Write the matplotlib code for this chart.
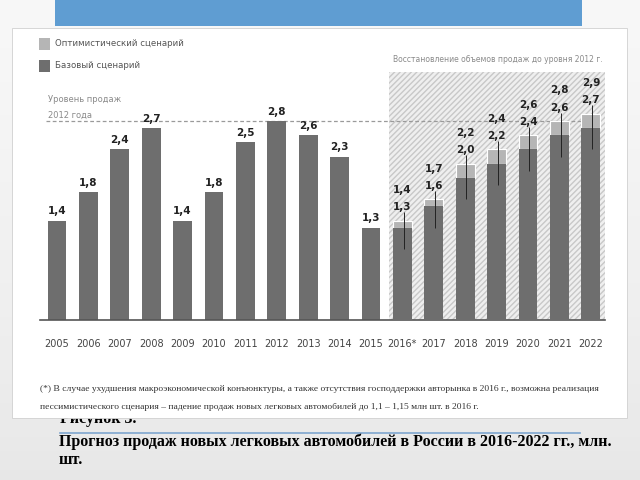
import numpy as np
import matplotlib
matplotlib.use("Agg")
import matplotlib.pyplot as plt
from matplotlib.patches import Rectangle

# history 2005-2015, forecast 2016*-2022
hist_years = ["2005", "2006", "2007", "2008", "2009", "2010", "2011", "2012", "2013", "2014", "2015"]
hist_sales = [1.4, 1.8, 2.4, 2.7, 1.4, 1.8, 2.5, 2.8, 2.6, 2.3, 1.3]
fc_years = ["2016*", "2017", "2018", "2019", "2020", "2021", "2022"]
fc_base = [1.3, 1.6, 2.0, 2.2, 2.4, 2.6, 2.7]
fc_optim = [1.4, 1.7, 2.2, 2.4, 2.6, 2.8, 2.9]
level_2012 = 2.8

years = hist_years + fc_years
W, H = 640, 480


def fx(x):
    return x / W


def fy(y):
    return 1 - y / H


def fmt(v):
    return f"{v:.1f}".replace(".", ",")


serif = ["Liberation Serif", "DejaVu Serif"]

fig = plt.figure(figsize=(6.4, 4.8), dpi=100)

# slide background, light grey getting a bit darker at the bottom
bg = fig.add_axes([0, 0, 1, 1], zorder=-5)
grad = np.linspace(0.06, 0.17, 100)[:, None] * np.ones((1, 10))
bg.imshow(grad, cmap="Greys", vmin=0, vmax=1, aspect="auto", extent=[0, 1, 0, 1])
bg.set_axis_off()

fig.patches.append(Rectangle((fx(55), fy(26)), fx(527), 26 / H, transform=fig.transFigure,
                             facecolor="#5f9dd2", edgecolor="none", zorder=1))
fig.patches.append(Rectangle((fx(12), fy(418)), fx(615), 390 / H, transform=fig.transFigure,
                             facecolor="white", edgecolor="#d0d0d0", linewidth=0.6, zorder=1))

# caption under the panel ("Рисунок 3." is half hidden by the panel)
fig.text(fx(60), fy(419), "Рисунок 3.", fontsize=11.5, fontweight="bold", family=serif,
         va="center", zorder=0.5)
fig.add_artist(plt.Line2D([fx(60), fx(580)], [fy(433), fy(433)], color="#7ea6cf", lw=1.2, zorder=2))
fig.text(fx(59), fy(442), "Прогноз продаж новых легковых автомобилей в России в 2016-2022 гг., млн.",
         fontsize=11.5, fontweight="bold", family=serif, va="center", zorder=3)
fig.text(fx(59), fy(460), "шт.", fontsize=11.5, fontweight="bold", family=serif, va="center", zorder=3)

# chart
ax = fig.add_axes([fx(40), fy(320), 565 / W, 248 / H])
ax.set_zorder(2)
ax.patch.set_alpha(0)
x = np.arange(len(years))
nh = len(hist_years)
xf = x[nh:]

ax.axvspan(nh - 0.43, len(years) - 0.55, facecolor="#efefef", hatch="//////",
           edgecolor="#c8c8c8", linewidth=0, zorder=0)
ax.axhline(level_2012, xmin=0.01, xmax=0.99, color="#9a9a9a", lw=0.9, ls=(0, (3, 2)), zorder=1)

ax.bar(x[:nh], hist_sales, width=0.6, color="#6e6e6e", zorder=2)
ax.bar(xf, np.array(fc_optim) - np.array(fc_base), bottom=fc_base, width=0.6,
       color="#b5b5b5", edgecolor="white", linewidth=0.8, zorder=2)
ax.bar(xf, fc_base, width=0.6, color="#6e6e6e", zorder=3)
ax.vlines(xf + 0.04, np.array(fc_base) - 0.3, np.array(fc_optim) + 0.12, color="#222222", lw=0.7, zorder=4)

for xi, v in zip(x[:nh], hist_sales):
    ax.text(xi, v + 0.06, fmt(v), ha="center", va="bottom", fontsize=7.5, fontweight="bold",
            color="#222222")
for xi, b, o in zip(xf, fc_base, fc_optim):
    ax.text(xi, o + 0.12, fmt(b), ha="center", va="bottom", fontsize=7.5, fontweight="bold",
            color="#222222")
    ax.text(xi, o + 0.36, fmt(o), ha="center", va="bottom", fontsize=7.5, fontweight="bold",
            color="#222222")

ax.set_xlim(-0.54, 17.45)
ax.set_ylim(0, 3.49)
ax.set_xticks(x)
ax.set_xticklabels(years, fontsize=7, color="#444444")
ax.tick_params(axis="x", length=0, pad=14)
ax.set_yticks([])
for s in ["top", "left", "right"]:
    ax.spines[s].set_visible(False)
ax.spines["bottom"].set_color("#555555")
ax.spines["bottom"].set_linewidth(1.2)

# legend and notes
fig.patches.append(Rectangle((fx(39), fy(50)), fx(11), 12 / H, transform=fig.transFigure,
                             facecolor="#b5b5b5", edgecolor="none", zorder=3))
fig.patches.append(Rectangle((fx(39), fy(72)), fx(11), 12 / H, transform=fig.transFigure,
                             facecolor="#6e6e6e", edgecolor="none", zorder=3))
fig.text(fx(55), fy(44), "Оптимистический сценарий", fontsize=6.2, color="#555555", va="center", zorder=3)
fig.text(fx(55), fy(66), "Базовый сценарий", fontsize=6.2, color="#555555", va="center", zorder=3)
fig.text(fx(48), fy(100), "Уровень продаж", fontsize=6, color="#8a8a8a", va="center", zorder=3)
fig.text(fx(48), fy(115), "2012 года", fontsize=6, color="#8a8a8a", va="center", zorder=3)
fig.text(fx(393), fy(59), "Восстановление объемов продаж до уровня 2012 г.", fontsize=5.5,
         color="#8a8a8a", va="center", zorder=3)

fig.text(fx(40), fy(389), "(*) В случае ухудшения макроэкономической конъюнктуры, а также отсутствия "
         "господдержки авторынка в 2016 г., возможна реализация",
         fontsize=6.8, family=serif, color="#333333", va="center", zorder=3)
fig.text(fx(40), fy(407), "пессимистического сценария – падение продаж новых легковых автомобилей "
         "до 1,1 – 1,15 млн шт. в 2016 г.",
         fontsize=6.8, family=serif, color="#333333", va="center", zorder=3)

fig.savefig("out.png", dpi=100)
